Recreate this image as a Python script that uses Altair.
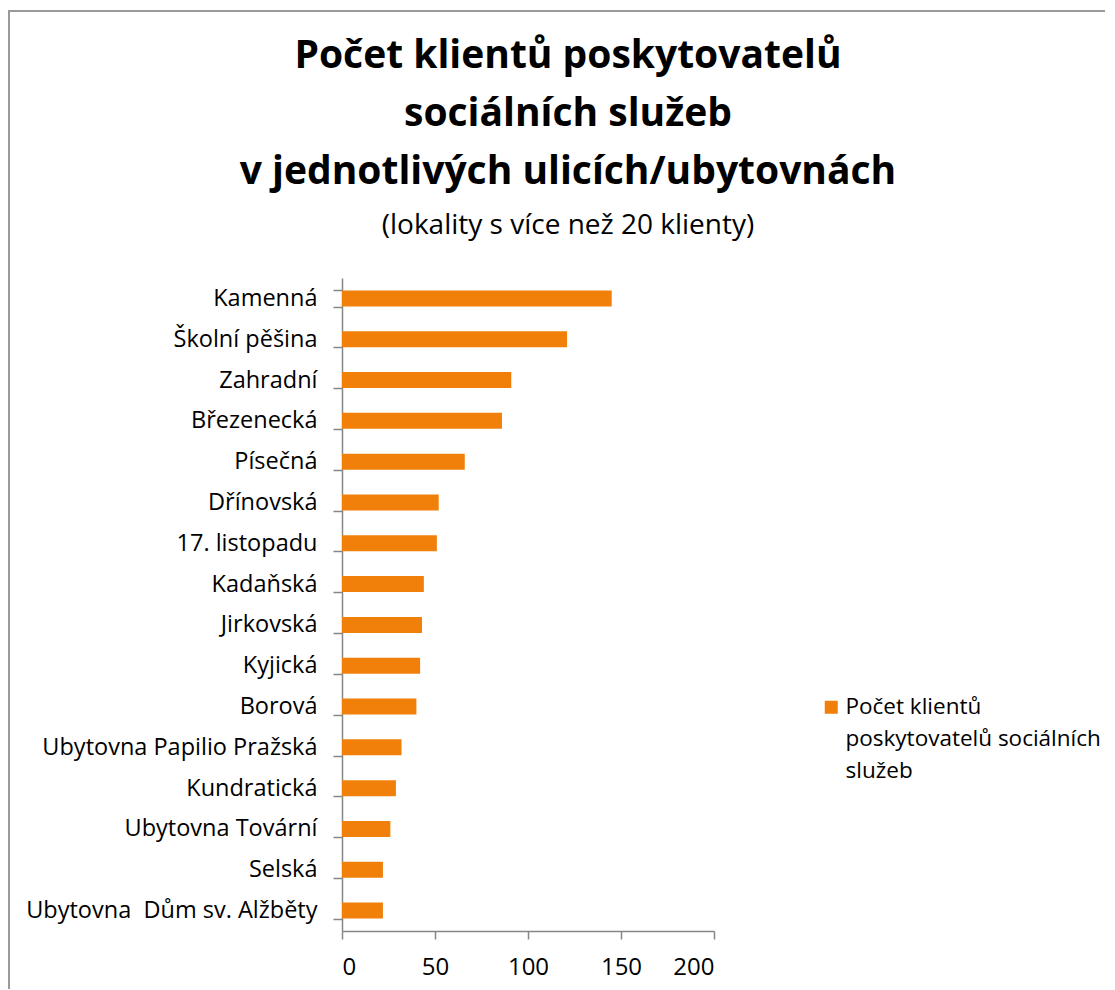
import altair as alt
import pandas as pd

categories = [
    "Kamenná", "Školní pěšina", "Zahradní", "Březenecká", "Písečná",
    "Dřínovská", "17. listopadu", "Kadaňská", "Jirkovská", "Kyjická",
    "Borová", "Ubytovna Papilio Pražská", "Kundratická", "Ubytovna Tovární",
    "Selská", "Ubytovna \u00a0Dům sv. Alžběty",
]
values = [145, 121, 91, 86, 66, 52, 51, 44, 43, 42, 40, 32, 29, 26, 22, 22]
series_name = "Počet klientů poskytovatelů sociálních služeb"
legend_lines = ["Počet klientů", "poskytovatelů sociálních", "služeb"]
x_ticks = [0, 50, 100, 150, 200]
title_lines = ["Počet klientů poskytovatelů", "sociálních služeb", "v jednotlivých ulicích/ubytovnách"]
subtitle = "(lokality s více než 20 klienty)"

df = pd.DataFrame({"lokalita": categories, "pocet": values, "serie": series_name})

FONT = "Open Sans"
W, H = 372, 653
PAD_L, PAD_T = 334, 270

label_expr = "[" + ", ".join("'" + s + "'" for s in legend_lines) + "]"

bars = alt.Chart(df).mark_bar(size=16).encode(
    x=alt.X("pocet:Q",
            scale=alt.Scale(domain=[0, 200], nice=False),
            axis=alt.Axis(values=x_ticks, title=None, grid=False,
                          labelFontSize=24, labelPadding=16, tickSize=8,
                          labelColor="#000000")),
    y=alt.Y("lokalita:N", sort=categories,
            scale=alt.Scale(paddingInner=0.6, paddingOuter=0.3),
            axis=alt.Axis(title=None, tickBand="extent", tickSize=9,
                          labelPadding=16, labelFontSize=23.5, labelLimit=400,
                          labelColor="#000000")),
    color=alt.Color("serie:N",
                    scale=alt.Scale(range=["#F0800A"]),
                    legend=alt.Legend(orient="none", legendX=478, legendY=418,
                                      title=None, symbolType="square",
                                      symbolSize=169, symbolStrokeWidth=0,
                                      labelFontSize=22.5, labelFont=FONT,
                                      labelColor="#000000",
                                      labelExpr=label_expr, labelLimit=400,
                                      labelOffset=3, labelBaseline="middle",
                                      padding=0)),
)

frame_src = alt.Chart(pd.DataFrame({"a": [0]}))
frame_left = frame_src.mark_rule(color="#9a9a9a", strokeWidth=2).encode(
    x=alt.value(-333), y=alt.value(-267), y2=alt.value(H + 70))
frame_top = frame_src.mark_rule(color="#9a9a9a", strokeWidth=2).encode(
    x=alt.value(-334), x2=alt.value(W + 400), y=alt.value(-267))

chart = alt.layer(frame_left, frame_top, bars).properties(
    width=W, height=H,
    autosize=alt.AutoSizeParams(type="none"),
    padding={"left": PAD_L, "top": PAD_T, "right": 391, "bottom": 58},
    title=alt.TitleParams(text=title_lines, subtitle=subtitle,
                          anchor="middle", frame="group", dx=40, dy=230,
                          font=FONT, fontSize=39, fontWeight="bold",
                          lineHeight=58, color="#000000",
                          subtitleFont=FONT, subtitleFontSize=28,
                          subtitleColor="#000000", subtitlePadding=20,
                          offset=0),
).configure(
    style={"guide-label": {"lineHeight": 32}}
).configure_view(stroke=None).configure_axis(
    labelFont=FONT, domainColor="#868686", tickColor="#868686",
    domainWidth=1.5, tickWidth=1.5,
)

chart.save("out.html", embed_options={"renderer": "svg", "actions": False})
